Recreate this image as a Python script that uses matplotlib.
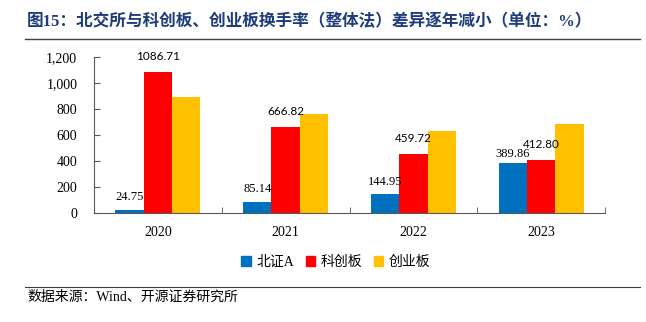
import matplotlib
matplotlib.use("Agg")
import matplotlib.pyplot as plt
import numpy as np
from matplotlib.lines import Line2D

plt.rcParams['font.family'] = ['Liberation Serif', 'Noto Sans CJK SC']

years = ["2020", "2021", "2022", "2023"]
bz = [24.75, 85.14, 144.95, 389.86]
kc = [1086.71, 666.82, 459.72, 412.80]
cy = [892, 764, 633, 685]
series_names = ["北证A", "科创板", "创业板"]
colors = ["#0070C0", "#FF0000", "#FFC000"]
yticks = [0, 200, 400, 600, 800, 1000, 1200]
ytick_labels = ["0", "200", "400", "600", "800", "1,000", "1,200"]
title = "图15：北交所与科创板、创业板换手率（整体法）差异逐年减小（单位：%）"
source = "数据来源：Wind、开源证券研究所"

W, H = 646, 322
fig = plt.figure(figsize=(W/100, H/100), dpi=100)
ax = fig.add_axes([94/W, 1-213.3/H, (605-94)/W, (213.3-57.3)/H])

x = np.arange(len(years))
w = 0.222
for i, (vals, c) in enumerate(zip([bz, kc, cy], colors)):
    ax.bar(x + (i-1)*w, vals, width=w, color=c, label=series_names[i], zorder=2)

bz_off = [5, 5, 5, 2]
kc_off = [7, 7, 7, 7]
for xi, v, o in zip(x, bz, bz_off):
    ax.annotate(f"{v:.2f}", (xi - w, v), xytext=(0, o), textcoords="offset points",
                ha="center", va="bottom", fontsize=9, family=['Liberation Serif'])
for xi, v, o in zip(x, kc, kc_off):
    ax.annotate(f"{v:.2f}", (xi, v), xytext=(0, o), textcoords="offset points",
                ha="center", va="bottom", fontsize=8.5, family=['Lato'])

ax.set_xlim(-0.5, 3.5)
ax.set_ylim(0, 1200)
ax.set_yticks(yticks)
ax.set_yticklabels(ytick_labels, fontsize=10)
ax.set_xticks(x)
ax.set_xticklabels(years, fontsize=10)
ax.set_xticks(np.arange(-0.5, 4.0, 1.0), minor=True)
ax.tick_params(axis='x', which='major', length=0, pad=9)
ax.tick_params(axis='x', which='minor', length=4, direction='in', color='#595959')
ax.tick_params(axis='y', length=4, direction='in', color='#595959', pad=12)
for s in ['top', 'right']:
    ax.spines[s].set_visible(False)
for s in ['left', 'bottom']:
    ax.spines[s].set_color('#595959')
    ax.spines[s].set_linewidth(0.8)

handles = [plt.Rectangle((0, 0), 1, 1, color=c) for c in colors]
fig.legend(handles, series_names, loc='center', bbox_to_anchor=(336/W, 1-262/H),
           ncol=3, frameon=False, handlelength=0.7, handleheight=0.7,
           columnspacing=0.8, handletextpad=0.4,
           prop={'family': ['Liberation Serif', 'Noto Sans CJK SC'], 'size': 10})

fig.text(27/W, 1-22/H, title, fontsize=12, fontweight='bold', color='#1F3D7A',
         va='center', ha='left', family=['Liberation Serif', 'Noto Sans CJK SC'])
fig.add_artist(Line2D([25/W, 640/W], [1-39/H, 1-39/H], color='#404040', lw=1.0))
fig.add_artist(Line2D([25/W, 640/W], [1-287/H, 1-287/H], color='#404040', lw=0.8))
fig.text(27/W, 1-297/H, source, fontsize=10, va='center', ha='left',
         family=['Liberation Serif', 'Noto Sans CJK SC'])

fig.savefig("out.png", dpi=100)
